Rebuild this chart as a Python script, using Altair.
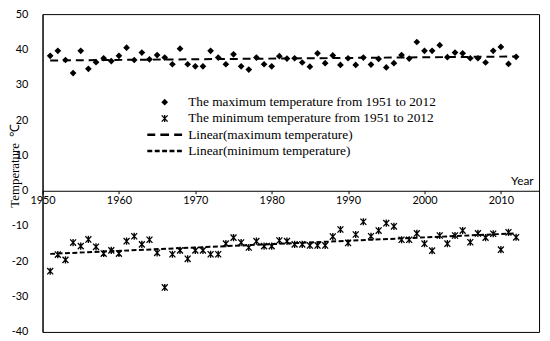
import altair as alt
import pandas as pd

years = list(range(1951, 2013))
max_temp = [38.2, 39.6, 37.0, 33.3, 39.6, 34.5, 36.4, 37.5, 36.7, 38.2,
            40.5, 37.0, 39.1, 37.2, 38.4, 37.7, 35.8, 40.2, 35.8, 35.2,
            35.2, 39.6, 37.7, 35.8, 38.6, 35.2, 34.3, 37.7, 35.8, 35.2,
            38.1, 37.4, 37.5, 36.3, 35.1, 38.9, 36.1, 38.3, 35.6, 37.5,
            35.6, 37.7, 35.7, 37.3, 34.9, 36.1, 38.4, 37.4, 42.1, 39.6,
            39.6, 41.2, 37.8, 39.1, 38.9, 37.5, 37.5, 36.3, 39.6, 40.7,
            35.9, 37.9]
min_temp = [-22.8, -18.1, -19.6, -14.7, -15.7, -13.8, -15.9, -17.8, -16.9, -17.8,
            -14.3, -12.9, -15.2, -13.9, -17.6, -27.4, -18.0, -16.9, -19.3, -16.9,
            -16.9, -18.0, -18.0, -15.0, -13.3, -14.7, -16.1, -14.3, -15.7, -15.7,
            -14.1, -14.3, -15.2, -15.2, -15.5, -15.5, -15.5, -13.0, -11.0, -14.8,
            -12.4, -8.8, -12.9, -11.3, -9.2, -10.1, -13.9, -13.9, -12.1, -15.0,
            -17.0, -12.7, -15.0, -12.7, -11.3, -14.6, -12.1, -13.3, -12.2, -16.7,
            -11.8, -13.2]
series_names = ["The maximum temperature from 1951 to 2012",
                "The minimum temperature from 1951 to 2012",
                "Linear(maximum temperature)",
                "Linear(minimum temperature)"]
x_ticks = [1950, 1960, 1970, 1980, 1990, 2000, 2010]
y_ticks = [-40, -30, -20, -10, 0, 10, 20, 30, 40, 50]

df = pd.DataFrame({
    "year": years + years,
    "temp": max_temp + min_temp,
    "series": [series_names[0]] * len(years) + [series_names[1]] * len(years),
})

# marker / legend symbol shapes (filled outlines so they render as fills)
diamond = "M0,-0.85L0.85,0L0,0.85L-0.85,0Z"
asterisk = ("M-0.867,-0.691L0.633,0.909L0.867,0.691L-0.633,-0.909Z"
            "M0.633,-0.909L-0.867,0.691L-0.633,0.909L0.867,-0.691Z"
            "M-0.17,-0.9L-0.17,0.9L0.17,0.9L0.17,-0.9Z")
dash_long = ("M-4.4,-0.3H-2.4V0.3H-4.4Z"
             "M-1.1,-0.3H1.1V0.3H-1.1Z"
             "M2.4,-0.3H4.4V0.3H2.4Z")
dash_short = ("M-4.4,-0.3H-3.15V0.3H-4.4Z"
              "M-2.52,-0.3H-1.27V0.3H-2.52Z"
              "M-0.65,-0.3H0.6V0.3H-0.65Z"
              "M1.22,-0.3H2.47V0.3H1.22Z"
              "M3.1,-0.3H4.35V0.3H3.1Z")

sans = "Lato"
serif = "Liberation Serif"

x_enc = alt.X(
    "year:Q",
    scale=alt.Scale(domain=[1950, 2015], nice=False, zero=False),
    axis=alt.Axis(
        values=x_ticks, format="d", offset=-143, tickSize=3, tickColor="black",
        domainColor="black", labelFont=sans, labelFontSize=11, labelColor="black",
        labelPadding=1, labelFlush=False, grid=False,
        title="Year", titleX=497, titleY=-3, titleAlign="right", titleBaseline="bottom",
        titleFont=sans, titleFontSize=12, titleFontWeight="normal", titleColor="black",
    ),
)
y_enc = alt.Y(
    "temp:Q",
    scale=alt.Scale(domain=[-40, 50], nice=False),
    axis=alt.Axis(
        values=y_ticks, labelExpr="'' + datum.value", tickSize=0, labelPadding=15,
        domainColor="black", labelFont=sans, labelFontSize=11, labelColor="black",
        grid=False, title="Temperature\u00a0\u00a0℃", titleFont=serif, titleFontSize=13,
        titleFontWeight="normal", titleColor="black", titleX=-28, titleY=153,
        titleAlign="center", titleBaseline="middle",
    ),
)

points = alt.Chart(df).mark_point(
    filled=True, size=64, opacity=1, color="black", strokeWidth=0
).encode(
    x=x_enc,
    y=y_enc,
    shape=alt.Shape(
        "series:N",
        scale=alt.Scale(domain=series_names, range=[diamond, asterisk, dash_long, dash_short]),
        legend=alt.Legend(
            title=None, orient="none", legendX=117, legendY=82.5, symbolSize=64,
            symbolStrokeWidth=0, symbolFillColor="black", symbolStrokeColor="black",
            symbolOpacity=1, labelFont=serif, labelFontSize=13.5, labelColor="black",
            labelOffset=17, rowPadding=1.5, padding=0, labelLimit=400,
        ),
    ),
)

trend_max = alt.Chart(df).transform_filter(
    alt.datum.series == series_names[0]
).transform_regression("year", "temp").mark_line(
    color="black", strokeWidth=2, strokeDash=[8, 5]
).encode(x=x_enc, y=y_enc)

trend_min = alt.Chart(df).transform_filter(
    alt.datum.series == series_names[1]
).transform_regression("year", "temp").mark_line(
    color="black", strokeWidth=2, strokeDash=[5, 2.5]
).encode(x=x_enc, y=y_enc)

chart = alt.layer(trend_max, trend_min, points).properties(
    width=503, height=322,
    autosize=alt.AutoSizeParams(type="none"),
    padding={"left": 35, "top": 4, "right": 3, "bottom": 7},
    background="white",
).configure_view(stroke="black", strokeWidth=1)

chart.save("out.html", embed_options={"renderer": "svg", "actions": False})
